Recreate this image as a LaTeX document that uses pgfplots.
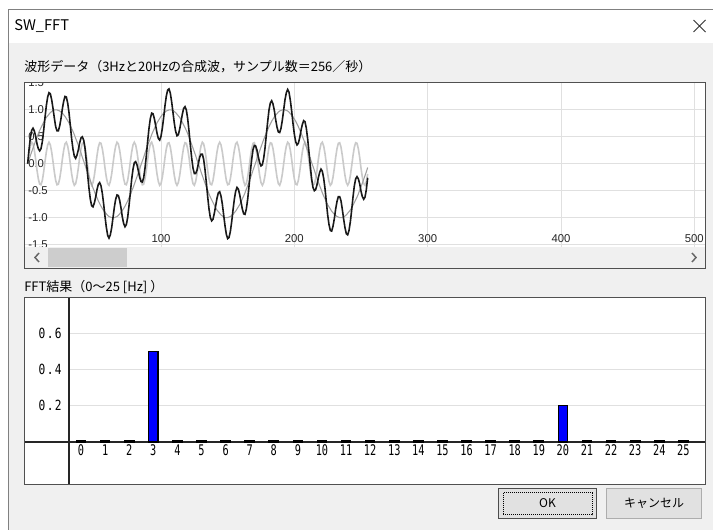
\documentclass[border=0pt]{standalone}
\usepackage{fontspec}
\usepackage{pgfplots}
\usepackage{pgfplotstable}
\pgfplotsset{compat=1.18}
\setmainfont{Noto Sans CJK JP}
\newfontfamily\arialfont{Liberation Sans}
\newfontfamily\narrowmono[FakeStretch=0.7]{DejaVu Sans Mono}
\newfontfamily\ymono[FakeStretch=0.8]{DejaVu Sans Mono}

\definecolor{winbg}{HTML}{F0F0F0}
\definecolor{gridc}{HTML}{E0E0E0}
\definecolor{framec}{HTML}{505050}
\definecolor{thumbc}{HTML}{CDCDCD}
\definecolor{btnface}{HTML}{E1E1E1}
\definecolor{btnline}{HTML}{ADADAD}
\definecolor{wave3}{HTML}{A0A0A0}
\definecolor{wave20}{HTML}{CACACA}

% n = sample, a = 3Hz, b = 20Hz, s = a+b
\pgfplotstableread{
n a b s
0 0.00 0.00 0.00
1 0.07 0.19 0.26
2 0.15 0.33 0.48
3 0.22 0.40 0.62
4 0.29 0.37 0.66
5 0.36 0.25 0.61
6 0.43 0.08 0.51
7 0.49 -0.12 0.37
8 0.56 -0.28 0.28
9 0.62 -0.38 0.24
10 0.67 -0.39 0.28
11 0.72 -0.31 0.41
12 0.77 -0.15 0.62
13 0.82 0.04 0.86
14 0.86 0.22 1.08
15 0.89 0.35 1.24
16 0.92 0.40 1.32
17 0.95 0.35 1.30
18 0.97 0.22 1.19
19 0.99 0.04 1.03
20 1.00 -0.15 0.85
21 1.00 -0.31 0.69
22 1.00 -0.39 0.61
23 0.99 -0.38 0.61
24 0.98 -0.28 0.70
25 0.96 -0.12 0.84
26 0.94 0.08 1.02
27 0.91 0.25 1.16
28 0.88 0.37 1.25
29 0.84 0.40 1.24
30 0.80 0.33 1.13
31 0.76 0.19 0.95
32 0.71 0.00 0.71
33 0.65 -0.19 0.46
34 0.60 -0.33 0.27
35 0.54 -0.40 0.14
36 0.47 -0.37 0.10
37 0.41 -0.25 0.16
38 0.34 -0.08 0.26
39 0.27 0.12 0.39
40 0.20 0.28 0.48
41 0.12 0.38 0.50
42 0.05 0.39 0.44
43 -0.02 0.31 0.29
44 -0.10 0.15 0.05
45 -0.17 -0.04 -0.21
46 -0.24 -0.22 -0.46
47 -0.31 -0.35 -0.66
48 -0.38 -0.40 -0.78
49 -0.45 -0.35 -0.80
50 -0.51 -0.22 -0.73
51 -0.58 -0.04 -0.62
52 -0.63 0.15 -0.48
53 -0.69 0.31 -0.38
54 -0.74 0.39 -0.35
55 -0.79 0.38 -0.41
56 -0.83 0.28 -0.55
57 -0.87 0.12 -0.75
58 -0.90 -0.08 -0.98
59 -0.93 -0.25 -1.18
60 -0.96 -0.37 -1.33
61 -0.98 -0.40 -1.38
62 -0.99 -0.33 -1.32
63 -1.00 -0.19 -1.19
64 -1.00 0.00 -1.00
65 -1.00 0.19 -0.81
66 -0.99 0.33 -0.66
67 -0.98 0.40 -0.58
68 -0.96 0.37 -0.59
69 -0.93 0.25 -0.68
70 -0.90 0.08 -0.82
71 -0.87 -0.12 -0.99
72 -0.83 -0.28 -1.11
73 -0.79 -0.38 -1.17
74 -0.74 -0.39 -1.13
75 -0.69 -0.31 -1.00
76 -0.63 -0.15 -0.78
77 -0.58 0.04 -0.54
78 -0.51 0.22 -0.29
79 -0.45 0.35 -0.10
80 -0.38 0.40 0.02
81 -0.31 0.35 0.04
82 -0.24 0.22 -0.02
83 -0.17 0.04 -0.13
84 -0.10 -0.15 -0.25
85 -0.02 -0.31 -0.33
86 0.05 -0.39 -0.34
87 0.12 -0.38 -0.26
88 0.20 -0.28 -0.08
89 0.27 -0.12 0.15
90 0.34 0.08 0.42
91 0.41 0.25 0.66
92 0.47 0.37 0.84
93 0.54 0.40 0.94
94 0.60 0.33 0.93
95 0.65 0.19 0.84
96 0.71 0.00 0.71
97 0.76 -0.19 0.57
98 0.80 -0.33 0.47
99 0.84 -0.40 0.44
100 0.88 -0.37 0.51
101 0.91 -0.25 0.66
102 0.94 -0.08 0.86
103 0.96 0.12 1.08
104 0.98 0.28 1.26
105 0.99 0.38 1.37
106 1.00 0.39 1.39
107 1.00 0.31 1.31
108 1.00 0.15 1.15
109 0.99 -0.04 0.95
110 0.97 -0.22 0.75
111 0.95 -0.35 0.60
112 0.92 -0.40 0.52
113 0.89 -0.35 0.54
114 0.86 -0.22 0.64
115 0.82 -0.04 0.78
116 0.77 0.15 0.92
117 0.72 0.31 1.03
118 0.67 0.39 1.06
119 0.62 0.38 1.00
120 0.56 0.28 0.84
121 0.49 0.12 0.61
122 0.43 -0.08 0.35
123 0.36 -0.25 0.11
124 0.29 -0.37 -0.08
125 0.22 -0.40 -0.18
126 0.15 -0.33 -0.18
127 0.07 -0.19 -0.12
128 0.00 0.00 0.00
129 -0.07 0.19 0.12
130 -0.15 0.33 0.18
131 -0.22 0.40 0.18
132 -0.29 0.37 0.08
133 -0.36 0.25 -0.11
134 -0.43 0.08 -0.35
135 -0.49 -0.12 -0.61
136 -0.56 -0.28 -0.84
137 -0.62 -0.38 -1.00
138 -0.67 -0.39 -1.06
139 -0.72 -0.31 -1.03
140 -0.77 -0.15 -0.92
141 -0.82 0.04 -0.78
142 -0.86 0.22 -0.64
143 -0.89 0.35 -0.54
144 -0.92 0.40 -0.52
145 -0.95 0.35 -0.60
146 -0.97 0.22 -0.75
147 -0.99 0.04 -0.95
148 -1.00 -0.15 -1.15
149 -1.00 -0.31 -1.31
150 -1.00 -0.39 -1.39
151 -0.99 -0.38 -1.37
152 -0.98 -0.28 -1.26
153 -0.96 -0.12 -1.08
154 -0.94 0.08 -0.86
155 -0.91 0.25 -0.66
156 -0.88 0.37 -0.51
157 -0.84 0.40 -0.44
158 -0.80 0.33 -0.47
159 -0.76 0.19 -0.57
160 -0.71 0.00 -0.71
161 -0.65 -0.19 -0.84
162 -0.60 -0.33 -0.93
163 -0.54 -0.40 -0.94
164 -0.47 -0.37 -0.84
165 -0.41 -0.25 -0.66
166 -0.34 -0.08 -0.42
167 -0.27 0.12 -0.15
168 -0.20 0.28 0.08
169 -0.12 0.38 0.26
170 -0.05 0.39 0.34
171 0.02 0.31 0.33
172 0.10 0.15 0.25
173 0.17 -0.04 0.13
174 0.24 -0.22 0.02
175 0.31 -0.35 -0.04
176 0.38 -0.40 -0.02
177 0.45 -0.35 0.10
178 0.51 -0.22 0.29
179 0.58 -0.04 0.54
180 0.63 0.15 0.78
181 0.69 0.31 1.00
182 0.74 0.39 1.13
183 0.79 0.38 1.17
184 0.83 0.28 1.11
185 0.87 0.12 0.99
186 0.90 -0.08 0.82
187 0.93 -0.25 0.68
188 0.96 -0.37 0.59
189 0.98 -0.40 0.58
190 0.99 -0.33 0.66
191 1.00 -0.19 0.81
192 1.00 0.00 1.00
193 1.00 0.19 1.19
194 0.99 0.33 1.32
195 0.98 0.40 1.38
196 0.96 0.37 1.33
197 0.93 0.25 1.18
198 0.90 0.08 0.98
199 0.87 -0.12 0.75
200 0.83 -0.28 0.55
201 0.79 -0.38 0.41
202 0.74 -0.39 0.35
203 0.69 -0.31 0.38
204 0.63 -0.15 0.48
205 0.58 0.04 0.62
206 0.51 0.22 0.73
207 0.45 0.35 0.80
208 0.38 0.40 0.78
209 0.31 0.35 0.66
210 0.24 0.22 0.46
211 0.17 0.04 0.21
212 0.10 -0.15 -0.05
213 0.02 -0.31 -0.29
214 -0.05 -0.39 -0.44
215 -0.12 -0.38 -0.50
216 -0.20 -0.28 -0.48
217 -0.27 -0.12 -0.39
218 -0.34 0.08 -0.26
219 -0.41 0.25 -0.16
220 -0.47 0.37 -0.10
221 -0.54 0.40 -0.14
222 -0.60 0.33 -0.27
223 -0.65 0.19 -0.46
224 -0.71 0.00 -0.71
225 -0.76 -0.19 -0.95
226 -0.80 -0.33 -1.13
227 -0.84 -0.40 -1.24
228 -0.88 -0.37 -1.25
229 -0.91 -0.25 -1.16
230 -0.94 -0.08 -1.02
231 -0.96 0.12 -0.84
232 -0.98 0.28 -0.70
233 -0.99 0.38 -0.61
234 -1.00 0.39 -0.61
235 -1.00 0.31 -0.69
236 -1.00 0.15 -0.85
237 -0.99 -0.04 -1.03
238 -0.97 -0.22 -1.19
239 -0.95 -0.35 -1.30
240 -0.92 -0.40 -1.32
241 -0.89 -0.35 -1.24
242 -0.86 -0.22 -1.08
243 -0.82 -0.04 -0.86
244 -0.77 0.15 -0.62
245 -0.72 0.31 -0.41
246 -0.67 0.39 -0.28
247 -0.62 0.38 -0.24
248 -0.56 0.28 -0.28
249 -0.49 0.12 -0.37
250 -0.43 -0.08 -0.51
251 -0.36 -0.25 -0.61
252 -0.29 -0.37 -0.66
253 -0.22 -0.40 -0.62
254 -0.15 -0.33 -0.48
255 -0.07 -0.19 -0.26
}\wavedata

\pgfplotstableread{
hz amp
0 0.008
1 0.008
2 0.008
3 0.5
4 0.008
5 0.008
6 0.008
7 0.008
8 0.008
9 0.008
10 0.008
11 0.008
12 0.008
13 0.008
14 0.008
15 0.008
16 0.008
17 0.008
18 0.008
19 0.008
20 0.2
21 0.008
22 0.008
23 0.008
24 0.008
25 0.008
}\fftdata

\begin{document}
\begin{tikzpicture}
% dialog background, in screen pixels
\begin{scope}[x=0.75pt,y=-0.75pt]
  \fill[white] (0,0) rectangle (713,530);
  \fill[winbg] (8,43) rectangle (713,530);
  \draw[gray, line width=0.75pt] (8.5,530) -- (8.5,9.5) -- (713,9.5);
  \fill[white] (25,83) rectangle (705,247);
  \fill[white] (25,298) rectangle (705,484);
\end{scope}

% waveform
\begin{axis}[
  at={(18.75pt,-185.25pt)}, anchor=south west,
  scale only axis, width=510pt, height=123pt,
  xmin=-2, xmax=508, ymin=-1.546, ymax=1.5,
  axis line style={draw=none},
  major tick length=0pt,
  xtick={100,200,300,400,500},
  xticklabels={100,200,300,400,500},
  ytick={-1.5,-1,-0.5,0,0.5,1,1.5},
  yticklabels={-1.5,-1.0,-0.5,0.0,0.5,1.0,1.5},
  grid=major, grid style={gridc, line width=0.75pt},
  tick label style={font=\arialfont\fontsize{8.5}{10}\selectfont, text=black!85},
  xticklabel style={anchor=south, inner sep=3pt},
  yticklabel style={anchor=west, inner sep=2.25pt},
]
\addplot[wave20, line width=1.2pt] table[x=n, y=b] {\wavedata};
\addplot[wave3, line width=0.8pt] table[x=n, y=a] {\wavedata};
\addplot[black!90, line width=1.2pt] table[x=n, y=s] {\wavedata};
\end{axis}

% FFT result
\begin{axis}[
  at={(51.75pt,-363pt)}, anchor=south west,
  scale only axis, width=477.75pt, height=140.25pt,
  xmin=-0.5, xmax=25.94, ymin=-0.231, ymax=0.8,
  axis x line=middle, axis y line=left,
  axis line style={-, black!85, line width=1pt},
  major tick length=0pt,
  xtick={0,...,25},
  ytick={0.2,0.4,0.6},
  yticklabels={0\kern1pt.\kern1pt2,0\kern1pt.\kern1pt4,0\kern1pt.\kern1pt6},
  ymajorgrids, grid style={gridc, line width=0.75pt},
  ybar, bar width=7pt,
  xticklabel style={font=\narrowmono\fontsize{11}{12}\selectfont, inner sep=2pt},
  yticklabel style={font=\ymono\fontsize{10.5}{12}\selectfont, xshift=-2pt},
  /pgf/number format/assume math mode=true,
]
\addplot[fill=blue, draw=black, line width=1pt] table[x=hz, y=amp] {\fftdata};
\end{axis}

% window parts drawn over the axes
\begin{scope}[x=0.75pt,y=-0.75pt]
  \node[anchor=west, inner sep=0pt, font=\fontsize{11}{12}\selectfont] at (14,26) {SW\_FFT};
  \draw[black!80, line width=0.75pt] (693.5,20) -- (705.5,32) (693.5,32) -- (705.5,20);
  % hide what sticks out of the upper plot
  \fill[winbg] (24,75) rectangle (90,82);
  \fill[winbg] (25,247) rectangle (705,268.5);
  \fill[thumbc] (48,248) rectangle (127,267);
  \draw[black!60, line width=1.1pt] (39,253) -- (35,257.5) -- (39,262);
  \draw[black!60, line width=1.1pt] (692,253) -- (696,257.5) -- (692,262);
  \draw[framec, line width=0.9pt] (24.5,82.5) rectangle (705.5,268.5);
  \draw[framec, line width=0.9pt] (24.5,297.5) rectangle (705.5,484.5);
  \draw[black!85, line width=1pt] (24.5,442) -- (69,442);
  \node[anchor=west, inner sep=0pt, font=\fontsize{9.75}{11}\selectfont] at (24,67)
    {波形データ（3Hzと20Hzの合成波，サンプル数＝256／秒）};
  \node[anchor=west, inner sep=0pt, font=\fontsize{9.75}{11}\selectfont] at (24,287)
    {FFT結果（0〜25 [Hz] ）};
  % buttons
  \fill[btnface] (498,488) rectangle (597,519);
  \draw[black!70, line width=1.1pt] (498.5,488.5) rectangle (596.5,518.5);
  \draw[black, line width=0.6pt, dash pattern=on 0.75pt off 0.75pt] (503,492.5) rectangle (592,514.5);
  \node[font=\fontsize{9}{10}\selectfont] at (547.5,503.5) {OK};
  \fill[btnface] (606,488) rectangle (702,519);
  \draw[btnline, line width=0.75pt] (606.5,488.5) rectangle (701.5,518.5);
  \node[font=\fontsize{9}{10}\selectfont] at (654,503.5) {キャンセル};
  \pgfresetboundingbox
  \path[use as bounding box] (0,0) rectangle (713,530);
\end{scope}
\end{tikzpicture}
\end{document}
